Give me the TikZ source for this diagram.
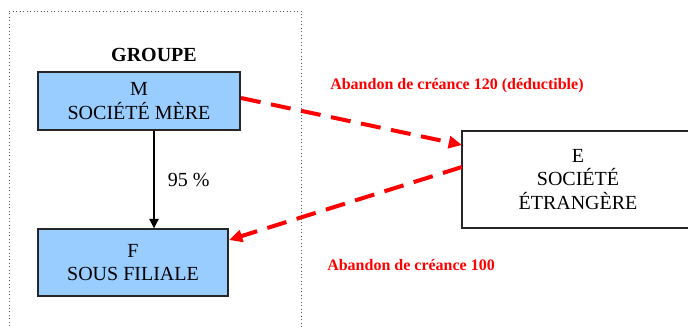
\documentclass[tikz,border=0pt]{standalone}
\usepackage{fontspec}
\setmainfont{Liberation Serif}
\usetikzlibrary{arrows.meta}
\definecolor{boxblue}{HTML}{99CCFF}
\definecolor{flowred}{HTML}{FF0000}
\begin{document}
\begin{tikzpicture}[x=0.75pt,y=-0.75pt,
  entity/.style={draw=black!85,line width=1.1pt,align=center,inner sep=0pt,
    font=\fontsize{15}{17.5}\selectfont},
  group/.style={entity,fill=boxblue},
  flow/.style={draw=flowred,line width=3pt,dash pattern=on 15pt off 8pt,
    -{Triangle[length=10pt,width=9pt]}},
  flowlabel/.style={text=flowred,font=\fontsize{12}{14}\selectfont\bfseries,inner sep=0pt},
  holding/.style={draw=black,line width=0.9pt,-{Triangle[length=7pt,width=7pt]}}]
\useasboundingbox (0,0) rectangle (688,328);
\clip (0,0) rectangle (688,328);
% group boundary
\draw[gray!70!black,line width=0.6pt,dotted] (9,340) -- (9,11) -- (301,11) -- (301,340);
\node[font=\fontsize{15}{17}\selectfont\bfseries,inner sep=0pt] (grp) at (154,55) {GROUPE};
% entities
\node[group,minimum width=202*0.75pt,minimum height=58*0.75pt] (m) at (139,101) {M\\SOCIÉTÉ MÈRE};
\node[group,minimum width=190*0.75pt,minimum height=67*0.75pt] (f) at (133,262.5) {F\\SOUS FILIALE};
\node[entity,minimum width=232*0.75pt,minimum height=97*0.75pt] (e) at (578,179.5) {E\\SOCIÉTÉ\\ÉTRANGÈRE};
% holding link
\draw[holding] (m.south -| 154,0) -- (f.north -| 154,0)
  node[midway,right=10pt,font=\fontsize{15}{17}\selectfont,inner sep=0pt] (pct) {95 \%};
% debt waivers
\coordinate (m1) at (241,98);
\coordinate (e1) at (462,145);
\coordinate (e2) at (462,167);
\coordinate (f1) at (229,240);
\draw[flow] (m1) -- (e1);
\draw[flow] (e2) -- (f1);
\node[flowlabel,anchor=west] (l1) at (330,86) {Abandon de créance 120 (déductible)};
\node[flowlabel,anchor=west] (l2) at (327,265) {Abandon de créance 100};
\end{tikzpicture}
\end{document}
